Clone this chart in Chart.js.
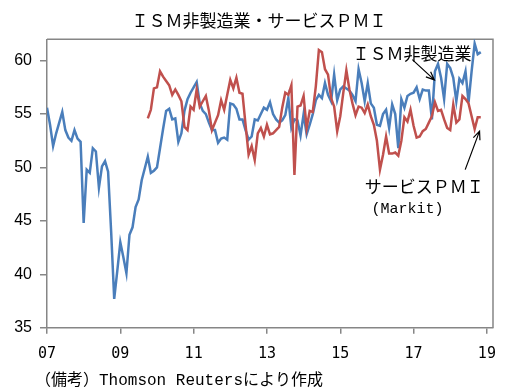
<!DOCTYPE html>
<html>
<head>
  <meta charset="utf-8">
  <title>ISM非製造業・サービスPMI</title>
  <script src="https://cdn.jsdelivr.net/npm/chart.js"></script>
  <style>
    body { margin: 0; background: #fff; }
  </style>
</head>
<body>
  <canvas id="pmi" width="507" height="390"></canvas>
  <script>
    // months counted from Jan 2007 (= 0)
    const ismStart = 0;      // ISM non-manufacturing, Jan 2007 - Nov 2018
    const ismValues = [
      55.6, 54.0, 52.0, 53.2, 54.2, 55.2, 53.5, 52.8, 52.5, 53.5, 52.7, 52.4,
      44.8, 49.8, 49.5, 51.8, 51.5, 48.1, 50.1, 50.6, 49.6, 44.0, 37.7, 40.3,
      43.0, 41.6, 40.1, 43.7, 44.4, 46.3, 47.0, 48.8, 49.9, 51.0, 49.5, 49.7,
      50.0, 51.8, 53.6, 55.3, 55.5, 54.5, 54.6, 52.4, 53.2, 55.3, 56.4, 57.0,
      57.5, 58.0, 56.0, 55.3, 55.0, 54.2, 53.5, 53.5, 52.3, 52.7, 52.8, 52.6,
      56.0, 55.9, 55.5, 54.5, 54.5, 53.5, 52.6, 52.9, 54.5, 54.4, 55.0, 55.6,
      55.4, 56.1, 55.0, 54.5, 54.2, 54.4, 54.9, 56.5, 53.7, 54.5, 54.4, 53.0,
      55.0, 53.1, 54.0, 55.0, 56.3, 56.8, 56.5, 57.9, 56.8, 56.2, 58.7, 56.3,
      57.3, 57.6, 57.4, 57.2, 56.8, 56.2, 59.2, 57.9, 56.2, 57.9, 56.0, 55.6,
      54.0, 53.9, 55.0, 55.4, 53.7, 55.9, 55.0, 51.8, 56.4, 55.6, 56.7, 56.9,
      57.0, 57.5, 56.4, 57.3, 57.2, 57.2, 54.5, 59.0, 59.7, 58.4, 56.4, 59.7,
      59.3, 58.4, 56.2, 58.3, 57.9, 59.0, 56.1, 59.0, 61.6, 60.6, 60.8
    ];
    const markitStart = 33;  // Markit services PMI, Oct 2009 - Nov 2018
    const markitValues = [
                                                      54.6, 55.4, 57.4,
      57.5, 59.0, 58.5, 58.1, 57.7, 56.8, 57.3, 56.8, 56.2, 53.8, 53.5, 55.7,
      55.4, 57.3, 55.7, 56.2, 56.7, 55.3, 53.5, 54.2, 54.9, 56.3, 55.4, 56.8,
      58.2, 57.4, 58.4, 57.0, 56.9, 54.0, 51.2, 52.0, 50.7, 53.2, 53.7, 52.9,
      54.0, 53.1, 53.2, 53.5, 53.8, 55.6, 57.0, 56.8, 57.7, 49.3, 55.7, 55.8,
      56.7, 53.7, 55.3, 55.2, 57.6, 61.0, 60.8, 59.2, 58.7, 56.5, 55.7, 53.4,
      54.8, 57.0, 59.1, 57.3, 56.0, 54.9, 55.7, 55.6, 55.1, 55.9, 54.8, 54.0,
      52.5, 49.8, 51.2, 52.9, 51.3, 51.3, 51.4, 51.1, 52.5, 54.7, 54.3, 55.4,
      53.9, 52.8, 52.9, 53.4, 53.6, 54.2, 54.8, 56.1, 55.3, 55.4, 54.5, 53.7,
      53.5, 55.9, 54.2, 54.5, 56.7, 56.4, 56.0, 54.8, 53.6, 54.7, 54.7
    ];
    const yearTicks = [0, 24, 48, 72, 96, 120, 144];
    const yearLabels = ['07', '09', '11', '13', '15', '17', '19'];
    const yTicks = [35, 40, 45, 50, 55, 60];

    const axisGrey = '#868686';
    const toPoints = (vals, start) => vals.map((v, i) => ({ x: start + i, y: v }));

    function arrow(ctx, x1, y1, x2, y2) {
      const a = Math.atan2(y2 - y1, x2 - x1);
      ctx.beginPath();
      ctx.moveTo(x1, y1);
      ctx.lineTo(x2, y2);
      ctx.moveTo(x2 - 9 * Math.cos(a - 0.4), y2 - 9 * Math.sin(a - 0.4));
      ctx.lineTo(x2, y2);
      ctx.lineTo(x2 - 9 * Math.cos(a + 0.4), y2 - 9 * Math.sin(a + 0.4));
      ctx.stroke();
    }

    const decor = {
      id: 'decor',
      beforeDatasetsDraw(chart) {
        const { ctx, chartArea: a } = chart;
        ctx.save();
        ctx.strokeStyle = axisGrey;
        ctx.lineWidth = 1.5;
        ctx.beginPath();
        ctx.moveTo(a.left, a.top);
        ctx.lineTo(a.right, a.top);
        ctx.lineTo(a.right, a.bottom);
        ctx.stroke();
        ctx.restore();
      },
      afterDraw(chart) {
        const { ctx } = chart;
        const xs = chart.scales.x, ys = chart.scales.y;
        const px = (m, v) => [xs.getPixelForValue(m), ys.getPixelForValue(v)];
        ctx.save();
        ctx.fillStyle = '#000';
        ctx.textBaseline = 'middle';
        ctx.textAlign = 'center';
        ctx.font = "17px 'Noto Sans CJK JP'";
        ctx.fillText('ＩＳＭ非製造業・サービスＰＭＩ', 259, 21);

        let p = px(119.5, 60.66);
        ctx.fillText('ＩＳＭ非製造業', p[0], p[1]);
        p = px(123.5, 48.2);
        ctx.fillText('サービスＰＭＩ', p[0], p[1]);
        ctx.font = "15px 'Liberation Mono'";
        p = px(118, 46.1);
        ctx.fillText('(Markit)', p[0], p[1]);

        ctx.strokeStyle = '#000';
        ctx.lineWidth = 1.2;
        let s = px(119.6, 60.1), e = px(126.8, 58.2);
        arrow(ctx, s[0], s[1], e[0], e[1]);
        s = px(136.9, 49.8); e = px(141.6, 53.4);
        arrow(ctx, s[0], s[1], e[0], e[1]);

        ctx.textAlign = 'left';
        ctx.font = "16px 'Liberation Mono', 'Noto Sans CJK JP'";
        ctx.fillText('（備考）Thomson Reutersにより作成', 35, 381);
        ctx.restore();
      }
    };

    new Chart(document.getElementById('pmi'), {
      type: 'line',
      data: {
        datasets: [
          {
            label: 'サービスPMI (Markit)',
            data: toPoints(markitValues, markitStart),
            borderColor: '#C0504D',
            borderWidth: 2.5,
            pointRadius: 0,
            tension: 0,
            order: 0
          },
          {
            label: 'ISM非製造業',
            data: toPoints(ismValues, ismStart),
            borderColor: '#4A7EBB',
            borderWidth: 2.5,
            pointRadius: 0,
            tension: 0,
            order: 1
          }
        ]
      },
      options: {
        responsive: false,
        devicePixelRatio: 1,
        animation: false,
        layout: { padding: { top: 39.3, right: 6.3, bottom: 22, left: 0 } },
        plugins: { legend: { display: false }, tooltip: { enabled: false } },
        scales: {
          x: {
            type: 'linear',
            min: 0,
            max: 146,
            afterBuildTicks: (s) => { s.ticks = yearTicks.map(v => ({ value: v })); },
            afterFit: (s) => { s.height = 390 - 327.7 - 22; },
            ticks: {
              callback: (v) => yearLabels[yearTicks.indexOf(v)],
              font: { family: 'DejaVu Sans Mono', size: 15 },
              color: '#000',
              padding: 11,
              maxRotation: 0,
              autoSkip: false
            },
            grid: { drawOnChartArea: false, tickLength: 6, color: axisGrey, lineWidth: 1.5 },
            border: { color: axisGrey, width: 1.5 }
          },
          y: {
            min: 35,
            max: 62,
            afterBuildTicks: (s) => { s.ticks = yTicks.map(v => ({ value: v })); },
            afterFit: (s) => { s.width = 47; },
            ticks: {
              font: { family: 'Liberation Sans', size: 16 },
              color: '#000',
              padding: 8
            },
            grid: { drawOnChartArea: false, tickLength: 7, color: axisGrey, lineWidth: 1.5 },
            border: { color: axisGrey, width: 1.5 }
          }
        }
      },
      plugins: [decor]
    });
  </script>
</body>
</html>
